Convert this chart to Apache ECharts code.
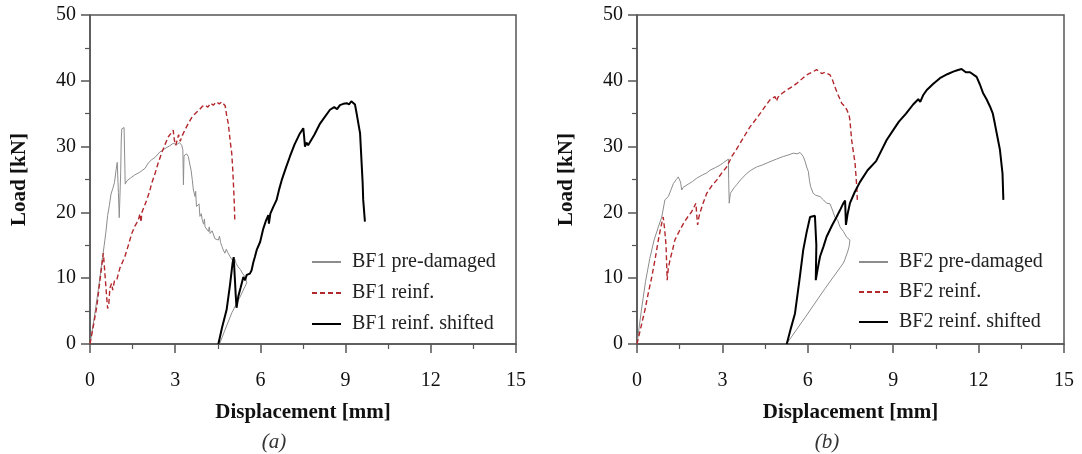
<!DOCTYPE html>
<html>
<head>
<meta charset="utf-8">
<script src="https://cdn.jsdelivr.net/npm/echarts@6/dist/echarts.min.js"></script>
<style>
html,body{margin:0;padding:0;background:#fff;}
#chart{width:1082px;height:454px;}
</style>
</head>
<body>
<div id="chart"></div>
<script>
// ---- Data (displacement mm, load kN) ----
const xTicks = [0, 3, 6, 9, 12, 15];
const yTicks = [0, 10, 20, 30, 40, 50];
const panelLabels = ['(a)', '(b)'];
const seriesNamesA = ['BF1 pre-damaged', 'BF1 reinf.', 'BF1 reinf. shifted'];
const seriesNamesB = ['BF2 pre-damaged', 'BF2 reinf.', 'BF2 reinf. shifted'];

const bf1PreDamaged = [[0,0],[0.15,4],[0.3,8.5],[0.42,12.5],[0.5,15],[0.56,17],[0.62,19.5],[0.68,21],[0.74,22.8],[0.8,23.6],[0.86,24.5],[0.92,26.5],[0.96,27.6],[1.0,23],[1.03,19.2],[1.06,19.5],[1.08,26],[1.1,31],[1.12,32.7],[1.2,32.9],[1.23,32.6],[1.24,24.3],[1.3,24.8],[1.42,25.2],[1.58,25.7],[1.75,26.1],[1.94,26.7],[2.05,27.5],[2.17,28],[2.3,28.4],[2.46,29.2],[2.55,29.4],[2.64,29.7],[2.8,30.1],[2.93,30.5],[3.05,30.3],[3.15,30.6],[3.23,30.2],[3.27,29.5],[3.29,24.2],[3.31,28.6],[3.4,28.9],[3.46,28.5],[3.52,27.2],[3.56,26.4],[3.6,25],[3.64,23.4],[3.7,22.4],[3.72,23.2],[3.75,20.9],[3.8,20.6],[3.84,21.3],[3.87,19.4],[3.92,19.8],[3.95,18.9],[4.0,18.2],[4.03,19],[4.05,17.8],[4.12,17.9],[4.17,17.1],[4.2,17.8],[4.23,16.8],[4.3,17.2],[4.34,16.9],[4.4,16],[4.45,16.2],[4.52,15.8],[4.56,16.4],[4.6,15.4],[4.65,14.8],[4.69,14.3],[4.75,13.8],[4.8,14.4],[4.85,13.9],[4.93,13.3],[5.0,12.8],[5.05,12.5],[5.1,12.9],[5.15,12.2],[5.22,11.7],[5.26,12],[5.3,11.3],[5.36,10.8],[5.4,10.6],[5.46,10.2],[5.52,9.3],[5.3,7.3],[5.0,4.8],[4.75,2.1],[4.56,0]];

const bf1Reinf = [[0,0],[0.12,2.8],[0.24,5.7],[0.36,10],[0.47,13.8],[0.52,11],[0.58,7.5],[0.62,5.4],[0.66,6],[0.7,8.5],[0.76,9.2],[0.8,8.2],[0.86,9.6],[0.94,9.7],[1.05,11.5],[1.15,12.5],[1.23,13.3],[1.35,15],[1.47,16.8],[1.58,17.9],[1.7,18.8],[1.76,19.8],[1.8,18.5],[1.82,19.9],[1.9,20.8],[2.0,21.9],[2.1,23.2],[2.17,24.4],[2.29,25.9],[2.4,27.5],[2.52,29],[2.64,30.3],[2.76,31.5],[2.85,32],[2.93,32.5],[2.97,31],[3.02,30.2],[3.05,30.5],[3.12,31.8],[3.18,30.8],[3.23,31.5],[3.35,32.6],[3.46,33.5],[3.58,34.4],[3.7,35],[3.85,35.6],[3.95,36.1],[4.05,36.3],[4.15,36],[4.25,36.6],[4.34,36.3],[4.45,36.8],[4.55,36.5],[4.64,36.8],[4.7,37],[4.76,36.2],[4.82,34.5],[4.87,33.5],[4.92,31.5],[4.96,30],[4.99,29],[5.02,27],[5.05,24.4],[5.08,21.5],[5.1,18.6]];

const bf1Shifted = [[4.52,0],[4.65,2.5],[4.81,5.2],[4.93,9],[5.02,12.3],[5.06,13.2],[5.1,10],[5.13,7.5],[5.16,5.5],[5.22,7.2],[5.3,8.5],[5.34,8.7],[5.4,10.2],[5.46,9.7],[5.52,10.5],[5.63,10.7],[5.69,11.2],[5.75,12.4],[5.81,13.3],[5.87,14.3],[5.99,15.5],[6.1,17.5],[6.2,18.8],[6.28,19.6],[6.3,18.3],[6.35,19.8],[6.45,20.8],[6.57,21.9],[6.66,23.5],[6.75,24.9],[6.9,26.8],[7.04,28.5],[7.2,30.3],[7.39,32],[7.51,32.8],[7.54,31.5],[7.57,30],[7.62,30.6],[7.68,30.2],[7.75,30.5],[7.9,31.8],[8.1,33.5],[8.25,34.4],[8.45,35.6],[8.6,36],[8.7,35.7],[8.8,36.3],[8.92,36.5],[9.04,36.6],[9.12,36.4],[9.2,36.9],[9.27,37.2],[9.33,36.4],[9.39,35],[9.45,33.5],[9.51,32],[9.54,29.5],[9.57,27],[9.6,24.5],[9.62,21.9],[9.68,18.6]];

const bf2PreDamaged = [[0,0],[0.15,5],[0.3,9.5],[0.45,13],[0.6,15.8],[0.75,17.8],[0.87,19.3],[0.98,21.9],[1.05,21.6],[1.1,22.4],[1.2,23.5],[1.28,24.4],[1.38,25],[1.45,25.4],[1.5,25.3],[1.53,24.6],[1.57,23.4],[1.62,23.8],[1.69,23.9],[1.8,24.3],[1.95,24.7],[2.1,25.2],[2.3,25.7],[2.45,26],[2.56,26.4],[2.75,26.8],[2.92,27.2],[3.05,27.6],[3.21,28.1],[3.22,25],[3.24,21.4],[3.28,22.9],[3.33,22.9],[3.42,23.8],[3.5,24.2],[3.65,25],[3.85,25.9],[4.0,26.4],[4.2,26.9],[4.4,27.2],[4.67,27.7],[4.9,28.1],[5.14,28.5],[5.3,28.7],[5.49,29],[5.62,28.9],[5.73,29.1],[5.84,28.5],[5.9,27.8],[5.96,26.9],[6.02,26.2],[6.06,24.8],[6.1,23.9],[6.19,22.9],[6.28,22.6],[6.43,22.4],[6.55,21.9],[6.66,21.4],[6.78,21.3],[6.88,20.2],[6.95,19.3],[7.05,18.8],[7.13,17.8],[7.25,17.1],[7.37,16.2],[7.48,15.8],[7.45,14.8],[7.42,14.3],[7.3,12.8],[7.25,12.3],[6.6,8.4],[5.9,4],[5.25,0]];

const bf2Reinf = [[0,0],[0.14,2.6],[0.28,5.2],[0.4,7.8],[0.52,10.2],[0.64,13],[0.75,15.8],[0.84,17.8],[0.92,19.3],[0.97,17.5],[1.02,15],[1.04,12.5],[1.06,9.7],[1.1,11.5],[1.16,12.8],[1.25,14.3],[1.33,15.8],[1.48,17.1],[1.63,18.3],[1.78,19.3],[1.92,20.1],[2.07,21.4],[2.1,19.5],[2.13,18.1],[2.17,19.2],[2.21,19.9],[2.33,21.5],[2.45,22.9],[2.62,24],[2.8,24.9],[2.98,26],[3.15,26.9],[3.33,28.5],[3.48,29.5],[3.62,30.5],[3.8,31.8],[3.97,33],[4.15,34],[4.32,35],[4.5,36.1],[4.67,37.1],[4.85,37.6],[4.9,36.9],[4.95,37.5],[5.1,38.1],[5.26,38.6],[5.45,39.1],[5.61,39.6],[5.8,40.3],[5.96,40.9],[6.15,41.3],[6.31,41.7],[6.4,41.4],[6.49,41.1],[6.6,41.3],[6.78,40.9],[6.87,40.1],[6.95,39.1],[7.07,37.8],[7.19,36.6],[7.28,36.2],[7.37,35.6],[7.45,34.8],[7.48,34],[7.54,31],[7.6,29.2],[7.66,27.5],[7.72,23.9],[7.74,21.9]];

const bf2Shifted = [[5.26,0],[5.4,2.3],[5.55,4.65],[5.7,9.5],[5.84,14.3],[5.96,17],[6.08,19.3],[6.14,19.6],[6.25,19.5],[6.31,19.3],[6.3,15],[6.28,9.7],[6.35,11.5],[6.43,13.3],[6.55,14.8],[6.66,16.3],[6.85,18],[7.01,19.3],[7.15,20.5],[7.25,21.4],[7.31,21.8],[7.34,18.1],[7.4,19.8],[7.48,21.4],[7.65,23.1],[7.83,24.6],[8.1,26.4],[8.4,27.8],[8.77,31],[9.0,32.5],[9.2,33.8],[9.45,35],[9.7,36.4],[9.88,37.2],[9.95,36.8],[10.05,37.8],[10.18,38.6],[10.4,39.5],[10.64,40.4],[10.9,41],[11.11,41.4],[11.25,41.6],[11.4,41.8],[11.55,41.3],[11.7,41.3],[11.93,40.6],[12.05,39.4],[12.16,38.1],[12.28,37.2],[12.4,36.1],[12.5,35],[12.57,33.5],[12.66,31.5],[12.75,29.5],[12.84,25.9],[12.87,21.9]];

// ---- Styling ----
const FONT = '"Liberation Serif", "Times New Roman", serif';
const GRAY = '#8d8d8d', RED = '#b3282d', BLACK = '#000000', AXIS = '#555555';

const chart = echarts.init(document.getElementById('chart'), null, {renderer: 'canvas'});

const grids = [
  {left: 90, right: 566, top: 15, bottom: 110},
  {left: 637, right: 18, top: 15, bottom: 110}
];

function xAxisOf(i) {
  return {
    gridIndex: i, type: 'value', min: xTicks[0], max: xTicks[xTicks.length-1], interval: 3,
    name: 'Displacement [mm]', nameLocation: 'middle', nameGap: 58,
    nameTextStyle: {fontFamily: FONT, fontWeight: 'bold', fontSize: 21, color: '#111'},
    axisLine: {show: true, lineStyle: {color: AXIS, width: 1.5}},
    axisTick: {show: true, inside: false, length: 9, lineStyle: {color: AXIS, width: 1.5}},
    minorTick: {show: true, splitNumber: 2, length: 5, lineStyle: {color: AXIS, width: 1.2}},
    splitLine: {show: false}, minorSplitLine: {show: false},
    axisLabel: {fontFamily: FONT, fontSize: 20, color: '#111', margin: 27}
  };
}
function yAxisOf(i) {
  return {
    gridIndex: i, type: 'value', min: yTicks[0], max: yTicks[yTicks.length-1], interval: 10,
    name: 'Load [kN]', nameLocation: 'middle', nameGap: 60, nameRotate: 90,
    nameTextStyle: {fontFamily: FONT, fontWeight: 'bold', fontSize: 21, color: '#111'},
    axisLine: {show: true, lineStyle: {color: AXIS, width: 1.5}},
    axisTick: {show: true, inside: false, length: 9, lineStyle: {color: AXIS, width: 1.5}},
    minorTick: {show: true, splitNumber: 2, length: 5, lineStyle: {color: AXIS, width: 1.2}},
    splitLine: {show: false}, minorSplitLine: {show: false},
    axisLabel: {fontFamily: FONT, fontSize: 20, color: '#111', margin: 14}
  };
}

function line(name, data, idx, color, width, type) {
  return {
    name: name, type: 'line', xAxisIndex: idx, yAxisIndex: idx, data: data,
    symbol: 'none', showSymbol: false, smooth: false, animation: false,
    lineStyle: {color: color, width: width, type: type}, itemStyle: {color: color},
    z: color === BLACK ? 4 : 3
  };
}

function legendOf(names, left, top, gap) {
  return {
    data: names, orient: 'vertical', left: left, top: top,
    itemWidth: 29, itemHeight: 14, itemGap: gap,
    itemStyle: {opacity: 0, borderWidth: 0},
    textStyle: {fontFamily: FONT, fontSize: 20, color: '#222', lineHeight: 20, padding: [0,0,0,6]},
    selectedMode: false
  };
}

const option = {
  backgroundColor: '#fff',
  animation: false,
  grid: grids.map(g => Object.assign({show: true, borderColor: AXIS, borderWidth: 1.5, backgroundColor: 'transparent'}, g)),
  xAxis: [xAxisOf(0), xAxisOf(1)],
  yAxis: [yAxisOf(0), yAxisOf(1)],
  legend: [legendOf(seriesNamesA, 306, 247, 11), legendOf(seriesNamesB, 853, 247, 10)],
  title: [
    {text: panelLabels[0], left: 269, top: 427, textAlign: 'center',
     textStyle: {fontFamily: FONT, fontStyle: 'italic', fontWeight: 'normal', fontSize: 21, color: '#333'}},
    {text: panelLabels[1], left: 822, top: 427, textAlign: 'center',
     textStyle: {fontFamily: FONT, fontStyle: 'italic', fontWeight: 'normal', fontSize: 21, color: '#333'}}
  ],
  series: [
    line(seriesNamesA[0], bf1PreDamaged, 0, GRAY, 1, 'solid'),
    line(seriesNamesA[1], bf1Reinf, 0, RED, 1.4, [5, 3]),
    line(seriesNamesA[2], bf1Shifted, 0, BLACK, 2, 'solid'),
    line(seriesNamesB[0], bf2PreDamaged, 1, GRAY, 1, 'solid'),
    line(seriesNamesB[1], bf2Reinf, 1, RED, 1.4, [5, 3]),
    line(seriesNamesB[2], bf2Shifted, 1, BLACK, 2, 'solid')
  ]
};
chart.setOption(option);
</script>
</body>
</html>
